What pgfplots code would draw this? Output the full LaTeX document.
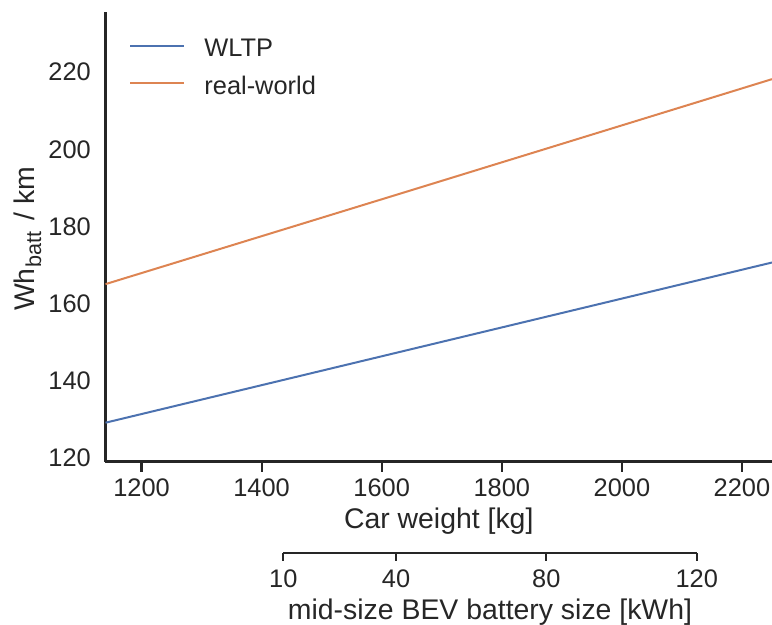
\documentclass[border=0pt]{standalone}
\usepackage{pgfplots}
\pgfplotsset{compat=1.18}
\usepackage{fontspec}
\setmainfont{Liberation Sans}

\definecolor{wltp}{HTML}{4C72B0}
\definecolor{realw}{HTML}{DD8452}
\definecolor{ink}{HTML}{262626}

\newcommand\labelfont{\fontsize{14.2}{17}\selectfont}
\newcommand\batt{\kern0.5pt\raisebox{-0.22em}{\fontsize{10.8}{12}\selectfont batt}\kern1.5pt}

% consumption per km against car weight (linear fits)
\pgfplotstableread{
weight wltp realworld
1140   129.2 165.1
1632   147.6 188.6
2250   170.7 218.2
}\consumption

\begin{document}
\fontsize{12.7}{15.2}\selectfont
\begin{tikzpicture}
\begin{axis}[
  scale only axis,
  width=333.25pt, height=224.85pt,
  xmin=1140, xmax=2250, ymin=119.1, ymax=235.6,
  axis x line*=bottom, axis y line*=left,
  axis line style={ink, line width=1.25pt},
  xtick={1200,1400,...,2200}, ytick={120,140,...,220},
  tick align=outside, major tick length=5pt,
  x tick style={ink, line width=1.1pt},
  y tick style={draw=none},
  tick label style={text=ink},
  /pgf/number format/assume math mode=true,
  /pgf/number format/1000 sep={},
  xticklabel style={anchor=base, inner sep=0pt, yshift=-12.5pt},
  yticklabel style={anchor=east, inner sep=0pt, xshift=-2.15pt},
  xlabel={Car weight [kg]},
  ylabel={Wh\batt{} / km},
  xlabel style={at={(axis description cs:0.5,-0.149)}, anchor=base, text=ink, inner sep=0pt, font=\labelfont},
  ylabel style={at={(axis description cs:-0.1058,0.4956)}, anchor=base, text=ink, inner sep=0pt, font=\labelfont},
  legend cell align=left,
  legend image code/.code={\draw[#1] (0pt,2.1pt) -- (27pt,2.1pt);},
  legend style={draw=none, fill=none, inner sep=0pt, column sep=9.5pt, row sep=6.75pt,
    nodes={inner sep=0pt, text height=9.2pt, text depth=2.7pt, text=ink},
    at={(axis description cs:0.0353,0.942)}, anchor=north west},
]
\addplot[wltp, line width=1pt] table[x=weight, y=wltp] {\consumption};
\addlegendentry{WLTP}
\addplot[realw, line width=1pt] table[x=weight, y=realworld] {\consumption};
\addlegendentry{real-world}
\end{axis}

% battery size scale for a mid-size BEV
\begin{axis}[
  at={(88.9pt,-45.65pt)}, anchor=south west,
  scale only axis, width=206.7pt, height=1pt,
  xmin=10, xmax=120, ymin=0, ymax=1,
  axis x line*=bottom, axis y line=none,
  axis line style={ink, line width=1.25pt},
  xtick={10,40,80,120},
  tick align=outside, major tick length=4pt,
  x tick style={ink, line width=1.1pt},
  tick label style={text=ink},
  /pgf/number format/assume math mode=true,
  xticklabel style={anchor=base, inner sep=0pt, yshift=-13.35pt},
  xlabel={mid-size BEV battery size [kWh]},
  xlabel style={at={(axis description cs:0.5,0)}, anchor=base, yshift=-33.5pt, text=ink, inner sep=0pt, font=\labelfont},
]
\addplot[draw=none, forget plot] coordinates {(10,0) (120,0)};
\end{axis}

\pgfresetboundingbox
\useasboundingbox (-52.75pt,-81.65pt) rectangle (333.25pt,230.85pt);
\end{tikzpicture}
\end{document}
